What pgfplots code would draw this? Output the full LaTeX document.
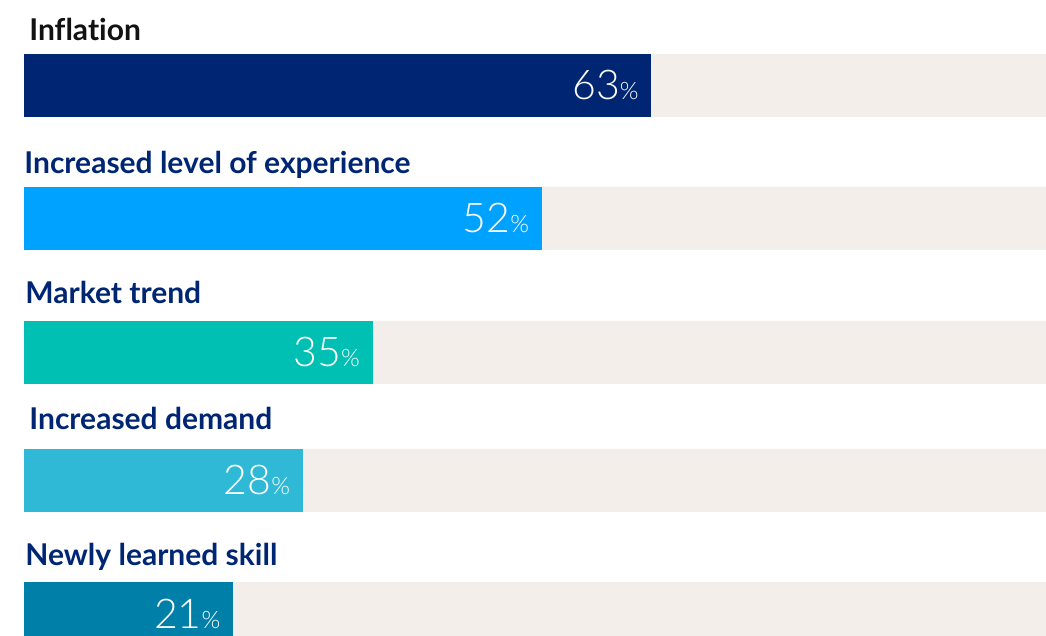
\documentclass[border=0pt]{standalone}
\usepackage{fontspec}
\setmainfont{Lato}
\newfontfamily\labfont{Lato}[UprightFont={* Bold}, Ligatures=NoCommon]
\newfontfamily\lightfont{Lato Light}
\usepackage{pgfplots}
\pgfplotsset{compat=1.18}
\definecolor{cInfl}{HTML}{002673}
\definecolor{cExp}{HTML}{00A2FF}
\definecolor{cMkt}{HTML}{00BFB3}
\definecolor{cDem}{HTML}{2FB9D7}
\definecolor{cSkill}{HTML}{007FA8}
\definecolor{cBg}{HTML}{F3EEEA}
\definecolor{cLab}{HTML}{002673}
\pgfplotsset{valnode/.style={nodes near coords={\fontsize{20.5}{24}\selectfont\lightfont\pgfmathprintnumber[assume math mode=true]{\pgfplotspointmeta}\fontsize{12}{14}\selectfont\%},
  nodes near coords style={anchor=east, text=white, inner sep=0pt, xshift=-6.2pt}}}
\begin{document}
\begin{tikzpicture}
\begin{axis}[name=ax, at={(12pt,0)}, anchor=south west, scale only axis,
  width=511pt, height=318pt, xmin=0, xmax=102.61, ymin=-636, ymax=0,
  hide axis, xbar, bar width=63, bar shift=0]
\addplot[fill=cBg, draw=none] coordinates {(102.61,-85.5) (102.61,-218.5) (102.61,-352.5) (102.61,-480.5) (102.61,-613.5)};
\addplot[fill=cInfl, draw=none, valnode] coordinates {(63,-85.5)};
\addplot[fill=cExp, draw=none, valnode] coordinates {(52,-218.5)};
\addplot[fill=cMkt, draw=none, valnode] coordinates {(35,-352.5)};
\addplot[fill=cDem, draw=none, valnode] coordinates {(28,-480.5)};
\addplot[fill=cSkill, draw=none, valnode] coordinates {(21,-613.5)};
\begin{scope}[every node/.style={anchor=base west, inner sep=0pt, font=\fontsize{15}{18}\selectfont\labfont}]
\node[text=black!93, xshift=2.5pt] at (axis cs:0,-41) {Inflation};
\node[text=cLab] at (axis cs:0,-173.3) {Increased level of experience};
\node[text=cLab, xshift=0.5pt] at (axis cs:0,-303.3) {Market trend};
\node[text=cLab, xshift=2.5pt] at (axis cs:0,-429.3) {Increased demand};
\node[text=cLab, xshift=0.5pt] at (axis cs:0,-566) {Newly learned skill};
\end{scope}
\end{axis}
\pgfresetboundingbox
\path[use as bounding box] (0,0) rectangle (523pt,318pt);
\end{tikzpicture}
\end{document}
